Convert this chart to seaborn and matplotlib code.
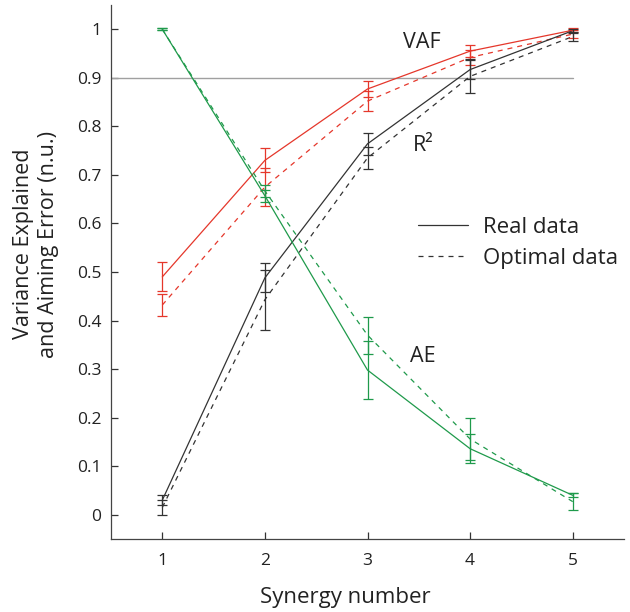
import numpy as np
import pandas as pd
import matplotlib
matplotlib.use("Agg")
import matplotlib.pyplot as plt
from matplotlib.lines import Line2D
import seaborn as sns

synergy = [1, 2, 3, 4, 5]

vaf_real = [0.490, 0.730, 0.877, 0.955, 0.998]
vaf_real_err = [0.030, 0.025, 0.017, 0.012, 0.004]
vaf_opt = [0.432, 0.675, 0.852, 0.942, 0.990]
vaf_opt_err = [0.023, 0.040, 0.020, 0.015, 0.008]

r2_real = [0.030, 0.488, 0.764, 0.917, 0.997]
r2_real_err = [0.010, 0.030, 0.022, 0.020, 0.004]
r2_opt = [0.015, 0.443, 0.735, 0.903, 0.985]
r2_opt_err = [0.015, 0.062, 0.022, 0.035, 0.010]

ae_real = [1.000, 0.657, 0.298, 0.136, 0.040]
ae_real_err = [0.002, 0.012, 0.060, 0.030, 0.004]
ae_opt = [1.000, 0.667, 0.370, 0.156, 0.027]
ae_opt_err = [0.002, 0.012, 0.038, 0.044, 0.018]

measures = ["VAF", "R²", "AE"]
kinds = ["Real data", "Optimal data"]
colors = {"VAF": "#e5372b", "R²": "#333333", "AE": "#1f9a4b"}

series = {
    ("VAF", "Real data"): (vaf_real, vaf_real_err),
    ("VAF", "Optimal data"): (vaf_opt, vaf_opt_err),
    ("R²", "Real data"): (r2_real, r2_real_err),
    ("R²", "Optimal data"): (r2_opt, r2_opt_err),
    ("AE", "Real data"): (ae_real, ae_real_err),
    ("AE", "Optimal data"): (ae_opt, ae_opt_err),
}

rows = []
for (m, k), (vals, errs) in series.items():
    for x, v, e in zip(synergy, vals, errs):
        rows.append({"Synergy": x, "Value": v, "Err": e, "Measure": m, "Kind": k})
df = pd.DataFrame(rows)

sns.set_style("ticks")
plt.rcParams["font.family"] = ["Open Sans", "DejaVu Sans"]

fig = plt.figure(figsize=(6.3, 6.12), dpi=100)
ax = fig.add_axes([111 / 630, (612 - 539) / 612, (624 - 111) / 630, (539 - 5) / 612])

ax.axhline(0.9, xmin=0, xmax=0.9, color="#a0a0a0", lw=1.0, zorder=1)

sns.lineplot(data=df, x="Synergy", y="Value", hue="Measure", style="Kind",
             palette=colors, hue_order=measures, style_order=kinds,
             dashes={"Real data": "", "Optimal data": (4, 4)},
             lw=0.9, legend=False, ax=ax, zorder=3)

for (m, k), (vals, errs) in series.items():
    ax.errorbar(synergy, vals, yerr=errs, fmt="none", ecolor=colors[m],
                elinewidth=0.9, capsize=3.5, capthick=0.9, zorder=4)

ax.set_xlim(0.5, 5.5)
ax.set_ylim(-0.05, 1.05)
ax.set_xticks(synergy)
ax.set_yticks([0, 0.1, 0.2, 0.3, 0.4, 0.5, 0.6, 0.7, 0.8, 0.9, 1])
ax.set_yticklabels(["0", "0.1", "0.2", "0.3", "0.4", "0.5", "0.6", "0.7", "0.8", "0.9", "1"])
ax.tick_params(direction="in", length=5, width=0.9, colors="#333333", labelsize=12.5,
               labelcolor="#222222")
ax.tick_params(axis="x", pad=10)
ax.tick_params(axis="y", pad=7)
for s in ["top", "right"]:
    ax.spines[s].set_visible(False)
for s in ["left", "bottom"]:
    ax.spines[s].set_color("#444444")
    ax.spines[s].set_linewidth(0.9)

ax.set_xlabel("Synergy number", fontsize=16, color="#222222")
ax.xaxis.set_label_coords((345 - 111) / 513, -(598 - 539) / 534)
ax.xaxis.label.set_va("center")
ax.set_ylabel("Variance Explained\nand Aiming Error (n.u.)", fontsize=15.5,
              color="#222222", linespacing=1.25)
ax.yaxis.set_label_coords(-(111 - 36) / 513, (539 - 244) / 534)
ax.yaxis.label.set_va("center")

ax.text(3.53, 0.973, "VAF", fontsize=15.5, color="#222222", ha="center", va="center")
ax.text(3.54, 0.76, "R²", fontsize=15.5, color="#222222", ha="center", va="center")
ax.text(3.54, 0.326, "AE", fontsize=15.5, color="#222222", ha="center", va="center")

handles = [Line2D([], [], color="#333333", lw=0.9, ls="-"),
           Line2D([], [], color="#333333", lw=0.9, ls=(0, (4, 4)))]
leg = ax.legend(handles, kinds, loc="upper left", bbox_to_anchor=(0.56, 0.64),
                frameon=False, fontsize=16, handlelength=2.25, handletextpad=0.68,
                labelspacing=0.45)
for t in leg.get_texts():
    t.set_color("#222222")

fig.savefig("out.png", dpi=100)
